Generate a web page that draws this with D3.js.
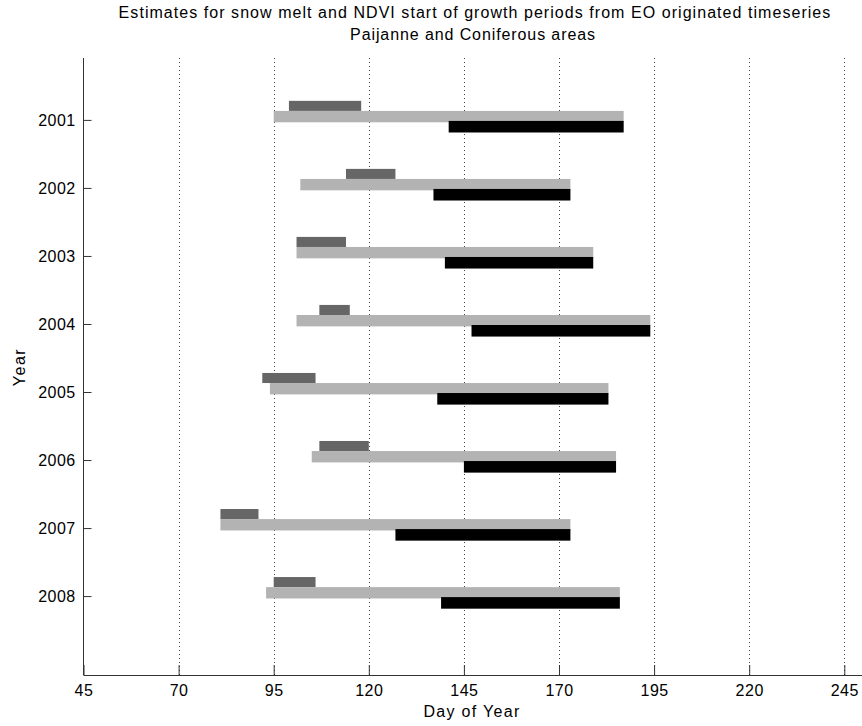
<!DOCTYPE html>
<meta charset="utf-8">
<style>
 body { margin: 0; background: #fff; }
 text { font-family: "Liberation Sans", Arial, sans-serif; font-size: 16px; fill: #000; }
 .label { letter-spacing: 1px; }
 .grid line { stroke: #444; stroke-dasharray: 1,3; }
 .axis path, .axis line { stroke: #333; }
</style>
<body>
<svg width="862" height="726"></svg>
<script src="https://d3js.org/d3.v7.min.js"></script>
<script>

 // one row per year
 var years = [2001, 2002, 2003, 2004, 2005, 2006, 2007, 2008];
 // snow melt period (start, end)
 var snowStart = [99, 114, 101, 107, 92, 107, 81, 95];
 var snowEnd = [118, 127, 114, 115, 106, 120, 91, 106];
 // NDVI start of growth, wide estimate
 var ndviStart = [95, 102, 101, 101, 94, 105, 81, 93];
 var ndviEnd = [187, 173, 179, 194, 183, 185, 173, 186];
 // NDVI start of growth, narrow estimate
 var sgStart = [141, 137, 140, 147, 138, 145, 127, 139];
 var sgEnd = [187, 173, 179, 194, 183, 185, 173, 186];

 var xTicks = [45, 70, 95, 120, 145, 170, 195, 220, 245];

 var svg = d3.select("svg"),
     mLeft = 83.5, mRight = 862, mTop = 58, mBottom = 675;

 var x = d3.scaleLinear().domain([45, 245]).range([mLeft, 844.3]);
 // x axis runs on past 245 to the edge of the picture
 var y = d3.scaleLinear().domain([2000.09, 2009.16]).range([mTop, mBottom]);

 // dotted grid
 svg.append("g").attr("class", "grid")
    .selectAll("line")
    .data(xTicks.slice(1))
    .enter().append("line")
    .attr("x1", function(d) { return Math.round(x(d)) + 0.5; })
    .attr("x2", function(d) { return Math.round(x(d)) + 0.5; })
    .attr("y1", mTop)
    .attr("y2", mBottom);

 var series = [
     { start: snowStart, end: snowEnd, color: "#666666", y0: -0.28, y1: -0.132 },
     { start: ndviStart, end: ndviEnd, color: "#b3b3b3", y0: -0.132, y1: 0.035 },
     { start: sgStart, end: sgEnd, color: "#000000", y0: 0.015, y1: 0.185 }
 ];

 series.forEach(function(s) {
     svg.append("g").selectAll("rect")
	.data(years)
	.enter().append("rect")
	.attr("x", function(d, i) { return x(s.start[i]); })
	.attr("width", function(d, i) { return x(s.end[i]) - x(s.start[i]); })
	.attr("y", function(d) { return y(d + s.y0); })
	.attr("height", function(d) { return y(d + s.y1) - y(d + s.y0); })
	.attr("fill", s.color);
 });

 // axes
 var xAxis = svg.append("g").attr("class", "axis")
		.attr("transform", "translate(0," + mBottom + ")")
		.call(d3.axisTop(x).tickValues(xTicks).tickSize(10).tickSizeOuter(0));
 xAxis.select(".domain").attr("d", "M" + mLeft + ",0.5H" + mRight);
 xAxis.selectAll("text")
      .attr("y", 21)
      .attr("dy", "0")
      .style("font-size", "16px")
      .style("letter-spacing", "0.5px")
      .style("font-family", "Liberation Sans, Arial, sans-serif")
      .attr("fill", "#000");

 var yAxis = svg.append("g").attr("class", "axis")
		.attr("transform", "translate(" + mLeft + ",0)")
		.call(d3.axisRight(y).tickValues(years).tickFormat(d3.format("d")).tickSize(8).tickSizeOuter(0));
 yAxis.select(".domain").attr("d", "M0," + mTop + "V" + mBottom);
 yAxis.selectAll("text")
      .attr("x", -8)
      .attr("text-anchor", "end")
      .style("font-size", "16px")
      .style("letter-spacing", "0.4px")
      .style("font-family", "Liberation Sans, Arial, sans-serif")
      .attr("fill", "#000");

 // titles
 svg.append("text").attr("class", "label").attr("x", 475).attr("y", 17.5).attr("text-anchor", "middle")
    .style("letter-spacing", "1.05px")
    .text("Estimates for snow melt and NDVI start of growth periods from EO originated timeseries");
 svg.append("text").attr("class", "label").attr("x", 473).attr("y", 39.5).attr("text-anchor", "middle")
    .style("letter-spacing", "0.9px")
    .text("Paijanne and Coniferous areas");
 svg.append("text").attr("class", "label").attr("x", 472).attr("y", 717).attr("text-anchor", "middle")
    .style("letter-spacing", "1.3px")
    .text("Day of Year");
 svg.append("text").attr("class", "label").attr("transform", "translate(25,367) rotate(-90)").attr("text-anchor", "middle")
    .style("letter-spacing", "1.5px")
    .text("Year");

</script>
</body>
